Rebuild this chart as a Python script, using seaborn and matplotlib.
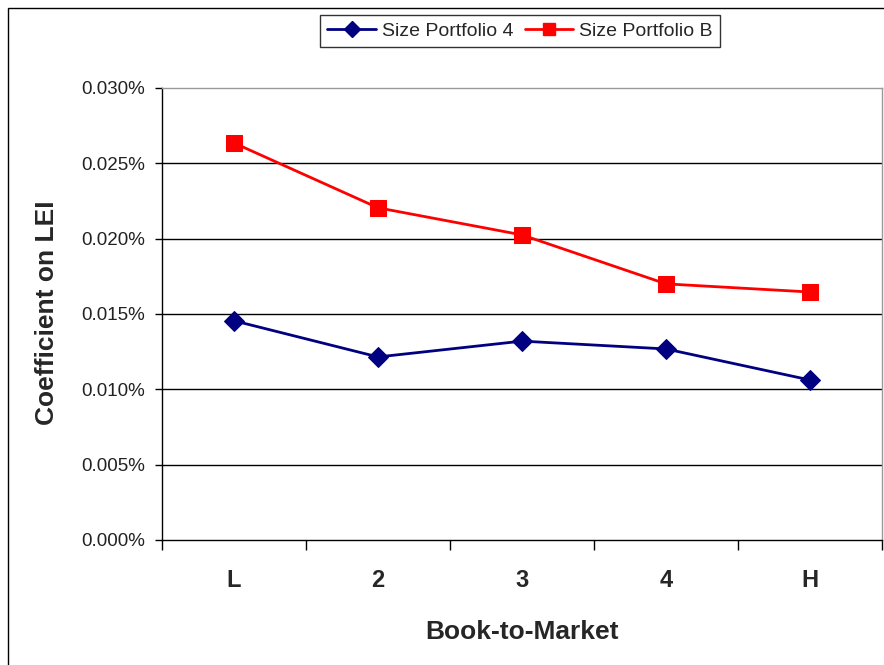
import numpy as np
import pandas as pd
import seaborn as sns
import matplotlib.pyplot as plt
from matplotlib.lines import Line2D
from matplotlib.patches import Rectangle
from matplotlib.ticker import FuncFormatter, FixedLocator


#########################
# Data
#########################

btm = ['L', '2', '3', '4', 'H']
size4 = [0.01455, 0.01215, 0.01320, 0.01268, 0.01062]   # coefficient, in %
sizeB = [0.02635, 0.02205, 0.02025, 0.01700, 0.01646]
series_names = ['Size Portfolio 4', 'Size Portfolio B']
y_ticks = [0.000, 0.005, 0.010, 0.015, 0.020, 0.025, 0.030]

df = pd.DataFrame({
    'Book-to-Market': btm * 2,
    'coef': size4 + sizeB,
    'series': [series_names[0]] * len(btm) + [series_names[1]] * len(btm),
})


#########################
# Plot
#########################

sns.set_style("white")
plt.rcParams['font.family'] = ['Liberation Sans', 'DejaVu Sans']

fig = plt.figure(figsize=(8.84, 6.65), dpi=100)
ax = fig.add_axes([162 / 884, 1 - 540 / 665, 720 / 884, 452 / 665])

navy = '#000080'
red = '#ff0000'

sns.lineplot(data=df[df.series == series_names[0]], x='Book-to-Market', y='coef',
             color=navy, marker='D', markersize=10, markeredgecolor=navy,
             linewidth=2, ax=ax, legend=False, sort=False)
sns.lineplot(data=df[df.series == series_names[1]], x='Book-to-Market', y='coef',
             color=red, marker='s', markersize=12, markeredgecolor=red,
             linewidth=2, ax=ax, legend=False, sort=False)

ax.set_xlim(-0.5, 4.5)
ax.set_ylim(0, 0.030)

# horizontal gridlines like excel
for yv in y_ticks[1:-1]:
    ax.axhline(yv, color='black', lw=1, zorder=0)

ax.set_yticks(y_ticks)
ax.yaxis.set_major_formatter(FuncFormatter(lambda v, p: '{:.3f}%'.format(v)))
ax.tick_params(axis='y', which='major', direction='out', length=5, width=1,
               color='black', pad=7, labelsize=13.5, labelcolor='#222222', left=True)

ax.set_xticks(range(len(btm)))
ax.set_xticklabels(btm, fontsize=17, fontweight='bold')
ax.xaxis.set_minor_locator(FixedLocator(np.arange(-0.5, 5.0, 1.0)))
ax.tick_params(axis='x', which='major', length=0, pad=21)
ax.tick_params(axis='x', which='minor', direction='out', length=7, width=1,
               color='black', bottom=True)

ax.spines['left'].set_color('black')
ax.spines['bottom'].set_color('black')
ax.spines['top'].set_color('#999999')
ax.spines['right'].set_color('#999999')
for s in ax.spines.values():
    s.set_linewidth(1)

ax.set_xlabel('Book-to-Market', fontsize=19, fontweight='bold')
ax.set_ylabel('Coefficient on LEI', fontsize=19, fontweight='bold')
ax.xaxis.set_label_coords(0.5, -0.178)
ax.yaxis.set_label_coords(-0.143, 0.502)

# legend on top
handles = [
    Line2D([], [], color=navy, lw=2, marker='D', markersize=8, markeredgecolor=navy),
    Line2D([], [], color=red, lw=2, marker='s', markersize=9, markeredgecolor=red),
]
leg = fig.legend(handles, series_names, loc='center', bbox_to_anchor=(520 / 884, 1 - 31 / 665),
                 ncol=2, fontsize=14, frameon=True, fancybox=False, edgecolor='black',
                 handlelength=2.5, handletextpad=0.3, columnspacing=0.6, borderpad=0.35)
leg.get_frame().set_linewidth(1)

# outer chart border
fig.patches.append(Rectangle((8 / 884, -0.1), 1.2, 1 - 8 / 665 + 0.1,
                             transform=fig.transFigure, fill=False,
                             edgecolor='black', lw=1))

plt.savefig('out.png', dpi=100)
